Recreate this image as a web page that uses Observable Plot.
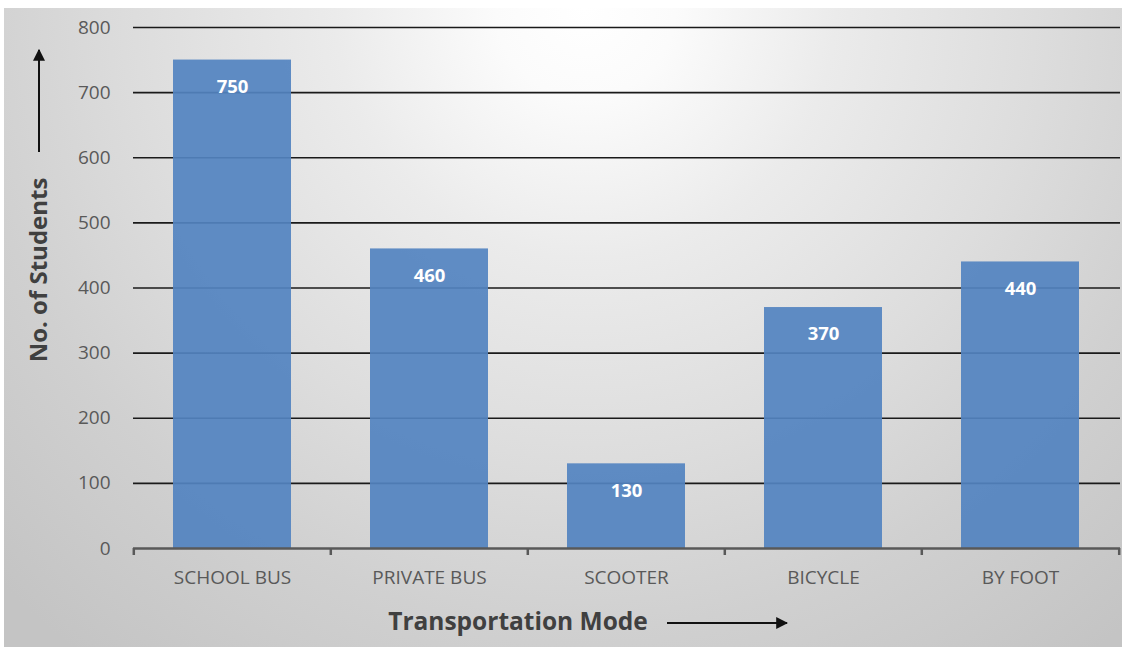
<!DOCTYPE html>
<html>
<head>
<meta charset="utf-8">
<script src="https://cdn.jsdelivr.net/npm/d3@7"></script>
<script src="https://cdn.jsdelivr.net/npm/@observablehq/plot@0.6"></script>
<style>
  html, body { margin: 0; padding: 0; background: #ffffff; }
  #wrap {
    position: absolute; left: 4px; top: 8px; width: 1118px; height: 639px;
    background: radial-gradient(circle at 52% 0%, #ffffff 0px, #fbfbfb 90px, #ebebeb 250px, #dddddd 450px, #d0d0d0 620px, #c4c4c4 820px);
  }
  #wrap svg { display: block; }
</style>
</head>
<body>
<div id="wrap"></div>
<script>
const categories = ["SCHOOL BUS", "PRIVATE BUS", "SCOOTER", "BICYCLE", "BY FOOT"];
const students = [750, 460, 130, 370, 440];
const yTicks = [0, 100, 200, 300, 400, 500, 600, 700, 800];
const yTitle = "No. of Students";
const xTitle = "Transportation Mode";

const data = categories.map((c, i) => ({mode: c, students: students[i]}));

const W = 1118, H = 639;
const mL = 129, mR = 2, mT = 19, mB = 99;
const step = (W - mL - mR) / categories.length;

const textColor = "#595959";
const font = "'Open Sans', 'Liberation Sans', sans-serif";

const chart = Plot.plot({
  width: W, height: H,
  marginLeft: mL, marginRight: mR, marginTop: mT, marginBottom: mB,
  style: {background: "transparent", fontFamily: font, overflow: "visible"},
  x: {domain: categories, paddingInner: 0.4, paddingOuter: 0.2, label: null},
  y: {domain: [0, 800], label: null},
  marks: [
    Plot.ruleY(yTicks.filter(d => d > 0), {stroke: "#1a1a1a", strokeWidth: 1.6}),
    Plot.barY(data, {x: "mode", y: "students", fill: "#5383c0", fillOpacity: 0.92}),
    Plot.text(data, {x: "mode", y: "students", text: d => String(d.students), dy: 27,
      fill: "white", fontWeight: "bold", fontSize: 18.5}),
    Plot.ruleY([0], {stroke: textColor, strokeWidth: 2.5}),
    Plot.ruleX(data, {x: "mode", y1: 0, y2: 0, dx: -step / 2, insetBottom: -7, stroke: textColor, strokeWidth: 2.5}),
    Plot.ruleX(data.slice(-1), {x: "mode", y1: 0, y2: 0, dx: step / 2, insetBottom: -7, stroke: textColor, strokeWidth: 2.5}),
    Plot.axisY({ticks: yTicks, tickSize: 0, tickPadding: 23, fontSize: 19, fill: textColor, label: null}),
    Plot.axisX({tickSize: 0, tickPadding: 22, fontSize: 19, fill: textColor, label: null})
  ]
});

document.getElementById("wrap").appendChild(chart);

const svg = d3.select(chart);
const defs = svg.append("defs");
defs.append("marker")
  .attr("id", "ah").attr("viewBox", "0 0 10 10").attr("refX", 9).attr("refY", 5)
  .attr("markerWidth", 12).attr("markerHeight", 12).attr("markerUnits", "userSpaceOnUse")
  .attr("orient", "auto")
  .append("path").attr("d", "M0,0 L10,5 L0,10 Z").attr("fill", "#111");

// y-axis title with arrow
svg.append("text")
  .attr("transform", "translate(43,262) rotate(-90)")
  .attr("text-anchor", "middle")
  .attr("font-family", font).attr("font-weight", "bold").attr("font-size", 24)
  .attr("fill", "#404040")
  .text(yTitle);
svg.append("line")
  .attr("x1", 35).attr("y1", 144).attr("x2", 35).attr("y2", 42)
  .attr("stroke", "#111").attr("stroke-width", 2).attr("marker-end", "url(#ah)");

// x-axis title with arrow
svg.append("text")
  .attr("x", 514).attr("y", 622)
  .attr("text-anchor", "middle")
  .attr("font-family", font).attr("font-weight", "bold").attr("font-size", 24.5)
  .attr("fill", "#404040")
  .text(xTitle);
svg.append("line")
  .attr("x1", 663).attr("y1", 615).attr("x2", 783).attr("y2", 615)
  .attr("stroke", "#111").attr("stroke-width", 2).attr("marker-end", "url(#ah)");
</script>
</body>
</html>
